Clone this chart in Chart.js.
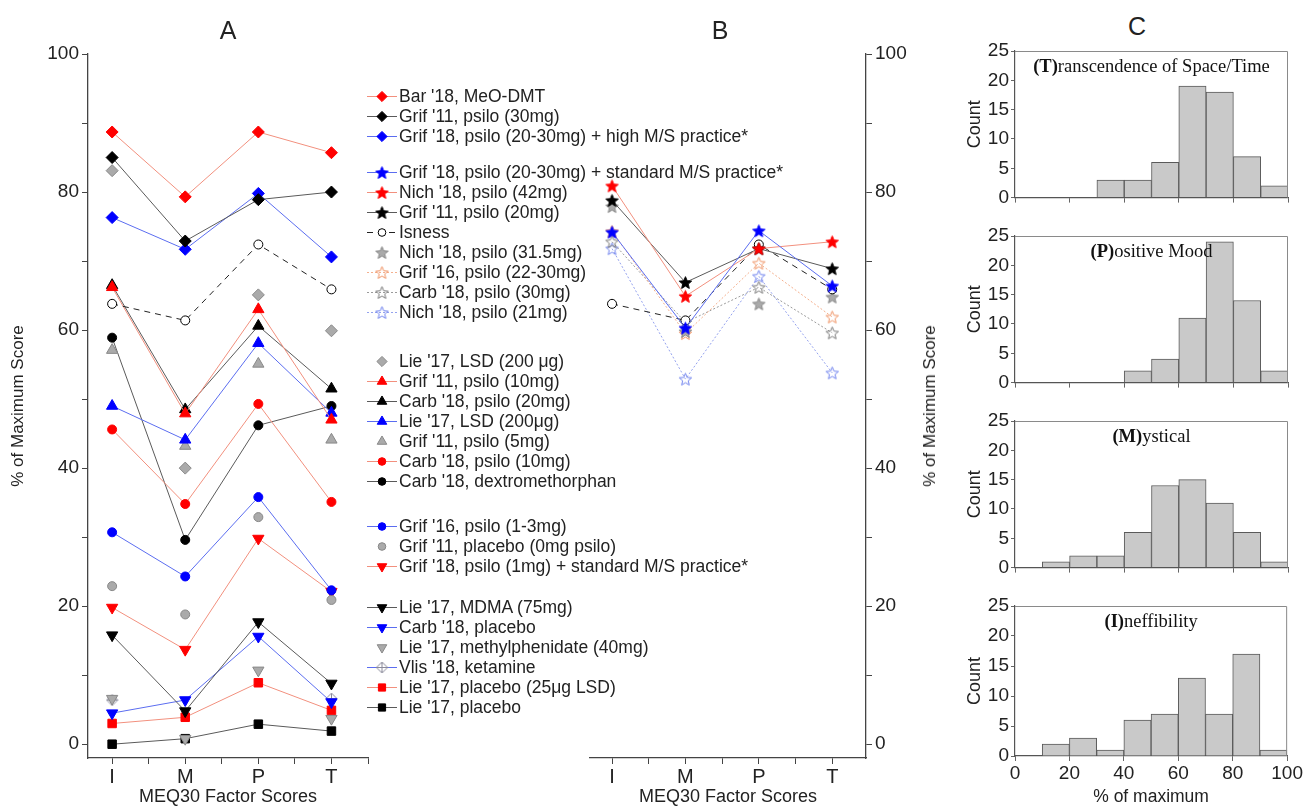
<!DOCTYPE html>
<html>
<head>
<meta charset="utf-8">
<script src="https://cdn.jsdelivr.net/npm/chart.js@4.4.1/dist/chart.umd.min.js"></script>
<style>
  body { margin: 0; background: #fff; font-family: "Liberation Sans", Arial, sans-serif; color: #222; }
  #wrap { position: relative; width: 1304px; height: 808px; overflow: hidden; }
  #wrap canvas { position: absolute; }
  .letter { position: absolute; font-size: 25px; transform: translate(-50%, -50%); }
  .vtitle { position: absolute; font-size: 17px; white-space: nowrap; transform: translate(-50%, -50%) rotate(-90deg); }
  .row { position: absolute; left: 366px; height: 20px; white-space: nowrap; font-size: 17.5px; line-height: 20px; }
  .row canvas { position: absolute; left: 0; top: 0; }
  .row span { position: absolute; left: 33px; top: 0; }
</style>
</head>
<body>
<div id="wrap">
  <canvas id="chartA" width="380" height="808" style="left:0;top:0"></canvas>
  <canvas id="chartB" width="390" height="808" style="left:560px;top:0"></canvas>
  <div id="legend"></div>
  <div class="letter" style="left:228px;top:30px">A</div>
  <div class="letter" style="left:720px;top:30px">B</div>
  <div class="letter" style="left:1137px;top:26px">C</div>
  <div class="vtitle" style="left:930px;top:406px">% of Maximum Score</div>
</div>
<script>
// MEQ30 factor categories
var factors = ['I', 'M', 'P', 'T'];

// % of maximum score per factor (I, M, P, T)
var bar18MeoDmt = [88.7, 79.3, 88.7, 85.7];
var grif11Psilo30 = [85.0, 72.9, 78.9, 80.0];
var grif18HighMS = [76.3, 71.7, 79.8, 70.6];
var grif18StdMS = [74.2, 60.3, 74.4, 66.4];
var nich18Psilo42 = [80.9, 64.9, 71.8, 72.8];
var grif11Psilo20 = [78.8, 66.9, 71.8, 68.9];
var isness = [63.8, 61.4, 72.4, 65.9];
var nich18Psilo31 = [77.9, 59.8, 63.8, 64.8];
var grif16Psilo22 = [74.3, 59.5, 69.7, 61.9];
var carb18Psilo30 = [72.8, 61.1, 66.2, 59.6];
var nich18Psilo21 = [71.8, 52.9, 67.8, 53.8];
var lie17Lsd200b = [83.1, 40.0, 65.1, 59.9];
var grif11Psilo10 = [66.2, 47.9, 63.0, 47.0];
var carb18Psilo20 = [66.5, 48.5, 60.6, 51.5];
var lie17Lsd200 = [49.0, 44.1, 58.1, 48.0];
var grif11Psilo5 = [57.1, 43.2, 55.1, 44.1];
var carb18Psilo10 = [45.6, 34.8, 49.3, 35.1];
var carb18Dxm = [58.9, 29.6, 46.2, 49.0];
var grif16Psilo1 = [30.7, 24.3, 35.8, 22.3];
var grif11Placebo = [22.9, 18.8, 32.9, 20.9];
var grif18Psilo1 = [19.8, 13.7, 29.8, 22.1];
var lie17Mdma = [15.8, 4.8, 17.7, 8.8];
var carb18Placebo = [4.5, 6.4, 15.6, 6.1];
var lie17Mph = [6.6, 0.8, 10.7, 3.7];
var vlis18Ketamine = [6.4, null, null, 6.6];
var lie17Placebo25 = [3.0, 3.9, 8.9, 4.9];
var lie17Placebo = [0.0, 0.8, 2.9, 1.9];

var yTickValues = [0, 10, 20, 30, 40, 50, 60, 70, 80, 90, 100];
var xTickValues = [1, 1.5, 2, 2.5, 3, 3.5, 4, 4.5];

// histograms (panel C): bins of 10% from 0 to 100
var binStart = [0, 10, 20, 30, 40, 50, 60, 70, 80, 90];
var countT = [0, 0, 0, 3, 3, 6, 19, 18, 7, 2];
var countP = [0, 0, 0, 0, 2, 4, 11, 24, 14, 2];
var countM = [0, 1, 2, 2, 6, 14, 15, 11, 6, 1];
var countI = [0, 2, 3, 1, 6, 7, 13, 7, 17, 1];

var RED = '#ff0000', BLACK = '#000000', BLUE = '#0000ff', GRAY = '#aaaaaa';
var RED_LINE = '#f2907e', BLACK_LINE = '#5a5a5a', BLUE_LINE = '#5b6df0';
var ORANGE = '#ef9364', OPEN_GRAY = '#7a7a7a', OPEN_BLUE = '#7083ee';

// label, values, panel, marker, colour, line colour, dash
var seriesList = [
  ["Bar '18, MeO-DMT", bar18MeoDmt, 'A', 'diamond', RED, RED_LINE],
  ["Grif '11, psilo (30mg)", grif11Psilo30, 'A', 'diamond', BLACK, BLACK_LINE],
  ["Grif '18, psilo (20-30mg) + high M/S practice*", grif18HighMS, 'A', 'diamond', BLUE, BLUE_LINE],
  ["Grif '18, psilo (20-30mg) + standard M/S practice*", grif18StdMS, 'B', 'star', BLUE, BLUE_LINE],
  ["Nich '18, psilo (42mg)", nich18Psilo42, 'B', 'star', RED, RED_LINE],
  ["Grif '11, psilo (20mg)", grif11Psilo20, 'B', 'star', BLACK, BLACK_LINE],
  ['Isness', isness, 'AB', 'openCircle', BLACK, '#222222', [6, 5]],
  ["Nich '18, psilo (31.5mg)", nich18Psilo31, 'B', 'star', GRAY, null],
  ["Grif '16, psilo (22-30mg)", grif16Psilo22, 'B', 'openStar', ORANGE, '#f4b08e', [2, 2]],
  ["Carb '18, psilo (30mg)", carb18Psilo30, 'B', 'openStar', OPEN_GRAY, '#9a9a9a', [2, 2]],
  ["Nich '18, psilo (21mg)", nich18Psilo21, 'B', 'openStar', OPEN_BLUE, '#94a2ee', [2, 2]],
  ["Lie '17, LSD (200 \u03bcg)", lie17Lsd200b, 'A', 'diamond', GRAY, null],
  ["Grif '11, psilo (10mg)", grif11Psilo10, 'A', 'triangle', RED, RED_LINE],
  ["Carb '18, psilo (20mg)", carb18Psilo20, 'A', 'triangle', BLACK, BLACK_LINE],
  ["Lie '17, LSD (200\u03bcg)", lie17Lsd200, 'A', 'triangle', BLUE, BLUE_LINE],
  ["Grif '11, psilo (5mg)", grif11Psilo5, 'A', 'triangle', GRAY, null],
  ["Carb '18, psilo (10mg)", carb18Psilo10, 'A', 'circle', RED, RED_LINE],
  ["Carb '18, dextromethorphan", carb18Dxm, 'A', 'circle', BLACK, BLACK_LINE],
  ["Grif '16, psilo (1-3mg)", grif16Psilo1, 'A', 'circle', BLUE, BLUE_LINE],
  ["Grif '11, placebo (0mg psilo)", grif11Placebo, 'A', 'circle', GRAY, null],
  ["Grif '18, psilo (1mg) + standard M/S practice*", grif18Psilo1, 'A', 'down', RED, RED_LINE],
  ["Lie '17, MDMA (75mg)", lie17Mdma, 'A', 'down', BLACK, BLACK_LINE],
  ["Carb '18, placebo", carb18Placebo, 'A', 'down', BLUE, BLUE_LINE],
  ["Lie '17, methylphenidate (40mg)", lie17Mph, 'A', 'down', GRAY, null],
  ["Vlis '18, ketamine", vlis18Ketamine, 'A', 'crossDiamond', '#8a8a9a', BLUE_LINE],
  ["Lie '17, placebo (25\u03bcg LSD)", lie17Placebo25, 'A', 'square', RED, RED_LINE],
  ["Lie '17, placebo", lie17Placebo, 'A', 'square', BLACK, BLACK_LINE]
];

function makeStar(fill, stroke, r) {
  var size = Math.ceil(2 * r + 2);
  var c = document.createElement('canvas');
  c.width = size; c.height = size;
  var g = c.getContext('2d');
  var cx = size / 2, cy = size / 2 + r * 0.1;
  g.beginPath();
  for (var i = 0; i < 10; i++) {
    var a = -Math.PI / 2 + i * Math.PI / 5;
    var rr = i % 2 ? r * 0.45 : r;
    g.lineTo(cx + rr * Math.cos(a), cy + rr * Math.sin(a));
  }
  g.closePath();
  g.fillStyle = fill; g.fill();
  g.lineWidth = 1; g.strokeStyle = stroke; g.stroke();
  return c;
}

function makeCrossDiamond(color, r) {
  var size = Math.ceil(2 * r + 2);
  var c = document.createElement('canvas');
  c.width = size; c.height = size;
  var g = c.getContext('2d');
  var m = size / 2;
  g.strokeStyle = color; g.lineWidth = 1;
  g.beginPath();
  g.moveTo(m, m - r); g.lineTo(m + r, m); g.lineTo(m, m + r); g.lineTo(m - r, m); g.closePath();
  g.moveTo(m - r, m); g.lineTo(m + r, m);
  g.moveTo(m, m - r); g.lineTo(m, m + r);
  g.stroke();
  return c;
}

function markerFor(kind, color) {
  var border = color === GRAY ? '#888888' : color;
  switch (kind) {
    case 'diamond': return { style: 'rectRot', radius: 6, rotation: 0, bg: color, border: border };
    case 'circle': return { style: 'circle', radius: 4.5, rotation: 0, bg: color, border: border };
    case 'openCircle': return { style: 'circle', radius: 4.5, rotation: 0, bg: '#ffffff', border: color };
    case 'triangle': return { style: 'triangle', radius: 6.5, rotation: 0, bg: color, border: border };
    case 'down': return { style: 'triangle', radius: 6.5, rotation: 180, bg: color, border: border };
    case 'square': return { style: 'rect', radius: 6, rotation: 0, bg: color, border: border };
    case 'star': return { style: makeStar(color, border, 6.5), radius: 6.5, rotation: 0, bg: color, border: border };
    case 'openStar': return { style: makeStar('rgba(255,255,255,0)', color, 6.5), radius: 6.5, rotation: 0, bg: color, border: color };
    case 'crossDiamond': return { style: makeCrossDiamond(color, 5.5), radius: 5.5, rotation: 0, bg: color, border: color };
  }
}

var series = seriesList.map(function (s) {
  return { label: s[0], values: s[1], panel: s[2], marker: markerFor(s[3], s[4]), color: s[4], line: s[5], dash: s[6] || [] };
});

function toDataset(s) {
  return {
    label: s.label,
    data: s.values.map(function (v, i) { return { x: i + 1, y: v }; }),
    showLine: !!s.line,
    borderColor: s.line || s.color,
    borderWidth: 1,
    borderDash: s.dash,
    pointStyle: s.marker.style,
    pointRadius: s.marker.radius,
    pointRotation: s.marker.rotation,
    pointBackgroundColor: s.marker.bg,
    pointBorderColor: s.marker.border,
    pointBorderWidth: 1
  };
}

Chart.defaults.font.family = '"Liberation Sans", Arial, sans-serif';
Chart.defaults.color = '#222';

var AXIS = '#444';

function scoreChart(id, panel, opts) {
  return new Chart(document.getElementById(id), {
    type: 'scatter',
    data: { datasets: series.filter(function (s) { return s.panel.indexOf(panel) >= 0; }).map(toDataset) },
    options: {
      responsive: false,
      animation: false,
      layout: { padding: { top: 54, right: opts.padRight, left: opts.padLeft, bottom: 0 } },
      plugins: { legend: { display: false }, tooltip: { enabled: false } },
      scales: {
        x: {
          type: 'linear', min: opts.xMin, max: opts.xMax,
          afterBuildTicks: function (s) {
            s.ticks = xTickValues.filter(function (v) { return v <= opts.xMax; }).map(function (v) { return { value: v }; });
          },
          afterFit: function (s) { s.height = 50; },
          grid: { drawOnChartArea: false, tickLength: 6, tickColor: AXIS },
          border: { color: AXIS, width: 1.3 },
          ticks: {
            autoSkip: false, maxRotation: 0, padding: 1, font: { size: 20 },
            callback: function (v) { return Number.isInteger(v) ? factors[v - 1] : ''; }
          },
          title: { display: true, text: 'MEQ30 Factor Scores', font: { size: 18 }, padding: { top: 0, bottom: 0 } }
        },
        y: {
          position: opts.yPos, min: -2, max: 100,
          afterBuildTicks: function (s) { s.ticks = yTickValues.map(function (v) { return { value: v }; }); },
          afterFit: function (s) { s.width = opts.yWidth; },
          grid: { drawOnChartArea: false, tickLength: 6, tickColor: AXIS },
          border: { color: AXIS, width: 1.3 },
          ticks: {
            autoSkip: false, padding: 3, font: { size: 19 },
            callback: function (v) { return v % 20 === 0 ? v : ''; }
          },
          title: { display: opts.yTitle, text: '% of Maximum Score', font: { size: 17 }, padding: { top: 8 } }
        }
      }
    }
  });
}

scoreChart('chartA', 'A', { padLeft: 0, padRight: 12, xMin: 0.67, xMax: 4.5, yPos: 'left', yWidth: 88, yTitle: true });
scoreChart('chartB', 'B', { padLeft: 30, padRight: 0, xMin: 0.7, xMax: 4.46, yPos: 'right', yWidth: 84, yTitle: false });

// legend between panels A and B, in groups
var legendLayout = [[0, 3, 96], [3, 8, 172], [11, 7, 361], [18, 3, 526], [21, 6, 607]];
var legendEl = document.getElementById('legend');
legendLayout.forEach(function (grp) {
  for (var k = 0; k < grp[1]; k++) {
    var s = series[grp[0] + k];
    var row = document.createElement('div');
    row.className = 'row';
    row.style.top = (grp[2] + k * 20 - 10) + 'px';
    var c = document.createElement('canvas');
    c.width = 32; c.height = 20;
    var g = c.getContext('2d');
    if (s.line) {
      g.strokeStyle = s.line; g.lineWidth = 1; g.setLineDash(s.dash);
      g.beginPath(); g.moveTo(1, 10.5); g.lineTo(31, 10.5); g.stroke();
      g.setLineDash([]);
    }
    g.fillStyle = s.marker.bg; g.strokeStyle = s.marker.border; g.lineWidth = 1;
    Chart.helpers.drawPoint(g, { pointStyle: s.marker.style, rotation: s.marker.rotation, radius: s.marker.radius * 0.85, borderWidth: 1 }, 16, 10.5);
    var t = document.createElement('span');
    t.textContent = s.label;
    row.appendChild(c); row.appendChild(t);
    legendEl.appendChild(row);
  }
});

// panel C histograms
var histTitlePlugin = {
  id: 'histTitle',
  afterDraw: function (chart, args, o) {
    var ctx = chart.ctx, a = chart.chartArea;
    ctx.save();
    ctx.strokeStyle = '#8a8a8a'; ctx.lineWidth = 1;
    ctx.beginPath();
    ctx.moveTo(a.left, a.top + 0.5); ctx.lineTo(a.right - 0.5, a.top + 0.5); ctx.lineTo(a.right - 0.5, a.bottom);
    ctx.stroke();
    ctx.fillStyle = '#111'; ctx.textBaseline = 'middle';
    var f = '18.5px "Liberation Serif", "Times New Roman", serif';
    ctx.font = 'bold ' + f;
    var w1 = ctx.measureText(o.bold).width;
    ctx.font = f;
    var w2 = ctx.measureText(o.rest).width;
    var x = (a.left + a.right) / 2 - (w1 + w2) / 2, y = a.top + 16;
    ctx.font = 'bold ' + f;
    ctx.fillText(o.bold, x, y);
    ctx.font = f;
    ctx.fillText(o.rest, x + w1, y);
    ctx.restore();
  }
};

var histSpecs = [
  ['(T)', 'ranscendence of Space/Time', countT, 51],
  ['(P)', 'ositive Mood', countP, 236],
  ['(M)', 'ystical', countM, 421],
  ['(I)', 'neffibility', countI, 606]
];

histSpecs.forEach(function (h, idx) {
  var last = idx === histSpecs.length - 1;
  var padTop = 15, plotH = 150;
  var c = document.createElement('canvas');
  var height = last ? 808 - (h[3] - padTop) : padTop + plotH + 10;
  c.width = 364; c.height = height;
  c.style.left = '940px'; c.style.top = (h[3] - padTop) + 'px';
  document.getElementById('wrap').appendChild(c);
  new Chart(c, {
    type: 'bar',
    data: {
      datasets: [{
        data: binStart.map(function (b, i) { return { x: b + 5, y: h[2][i] }; }),
        backgroundColor: '#c9c9c9', borderColor: '#5a5a5a', borderWidth: 1,
        barPercentage: 1, categoryPercentage: 1
      }]
    },
    options: {
      responsive: false,
      animation: false,
      layout: { padding: { top: padTop, right: 16, left: 0, bottom: 0 } },
      plugins: { legend: { display: false }, tooltip: { enabled: false }, histTitle: { bold: h[0], rest: h[1] } },
      scales: {
        x: {
          type: 'linear', min: 0, max: 100, offset: false,
          afterFit: function (s) { s.height = height - padTop - plotH; },
          grid: { drawOnChartArea: false, offset: false, tickLength: 5, tickColor: '#666' },
          border: { color: '#555', width: 1.2 },
          ticks: { display: last, stepSize: 20, padding: 1, maxRotation: 0, font: { size: 19 } },
          title: { display: last, text: '% of maximum', font: { size: 17.5 }, padding: { top: 0, bottom: 0 } }
        },
        y: {
          min: 0, max: 25,
          afterFit: function (s) { s.width = 75; },
          grid: { drawOnChartArea: false, tickLength: 4, tickColor: '#666' },
          border: { color: '#555', width: 1.2 },
          ticks: { stepSize: 5, padding: 2, font: { size: 19 } },
          title: { display: true, text: 'Count', font: { size: 18 }, padding: { top: 24 } }
        }
      }
    },
    plugins: [histTitlePlugin]
  });
});
</script>
</body>
</html>
